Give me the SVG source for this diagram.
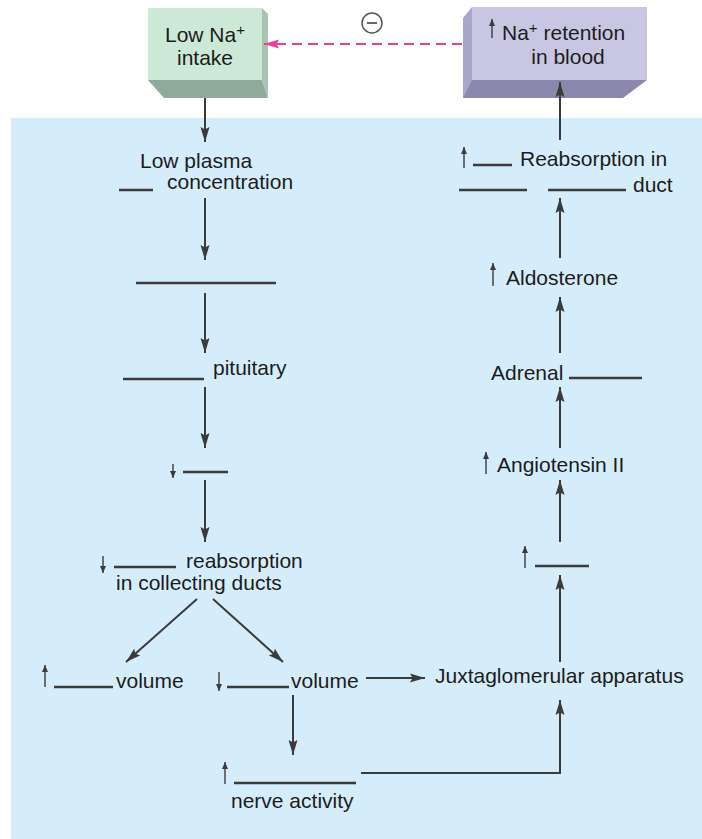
<svg xmlns="http://www.w3.org/2000/svg" width="702" height="839" viewBox="0 0 702 839">
<defs>
<style>
text{font-family:"Liberation Sans",Arial,Helvetica,sans-serif;font-size:21px;fill:#1c1c1c}
.c{stroke:#3b3b3b;stroke-width:2;fill:none}
.b{stroke:#3b3b3b;stroke-width:2.5;fill:none}
.s{stroke:#3b3b3b;stroke-width:1.4;fill:none}
.sup{font-size:15px}
</style>
<marker id="ah" markerUnits="userSpaceOnUse" markerWidth="16" markerHeight="10" refX="15" refY="5" orient="auto">
<path d="M0,0.5 L15,5 L0,9.5 L2.5,5 z" fill="#3b3b3b"/>
</marker>
<marker id="ahp" markerUnits="userSpaceOnUse" markerWidth="16" markerHeight="10" refX="15" refY="5" orient="auto">
<path d="M0,0.5 L15,5 L0,9.5 L2.5,5 z" fill="#e8409a"/>
</marker>
<marker id="sm" markerUnits="userSpaceOnUse" markerWidth="8" markerHeight="8" refX="7" refY="3" orient="auto">
<path d="M0,0 L7,3 L0,6 z" fill="#3b3b3b"/>
</marker>
</defs>
<rect x="0" y="0" width="702" height="839" fill="#ffffff"/>
<rect x="11" y="118" width="691" height="721" fill="#d5ecfa"/>

<g id="low-na-intake">
<polygon points="148,80 262,80 268,98 164,98" fill="#8fa99a"/>
<polygon points="262,8 268,14 268,98 262,80" fill="#a9c3b3"/>
<rect x="148" y="8" width="114" height="72" fill="#cce8d6"/>
<text x="205" y="42" text-anchor="middle">Low Na<tspan class="sup" dy="-7">+</tspan></text>
<text x="205" y="65" text-anchor="middle">intake</text>
</g>

<g id="na-retention">
<polygon points="463,80 647,80 623,98 463,98" fill="#8b88ab"/>
<polygon points="472,7 463,18 463,98 472,80" fill="#a9a6cb"/>
<rect x="472" y="7" width="175" height="73" fill="#c9c6e4"/>
<line class="s" x1="492" y1="38" x2="492" y2="19" marker-end="url(#sm)"/>
<text x="502" y="40">Na<tspan class="sup" dy="-7">+</tspan><tspan dy="7"> retention</tspan></text>
<text x="568" y="64" text-anchor="middle">in blood</text>
</g>

<g id="inhibit">
<circle cx="372" cy="23" r="10" fill="#ffffff" stroke="#555" stroke-width="1.5"/>
<line x1="367" y1="23" x2="377" y2="23" stroke="#555" stroke-width="1.8"/>
</g>

<g id="low-plasma">
<text x="140" y="168">Low plasma</text>
<line class="b" x1="119" y1="190" x2="153" y2="190"/>
<text x="167" y="189">concentration</text>
</g>

<g id="blank1">
<line class="b" x1="136" y1="283" x2="276" y2="283"/>
</g>

<g id="pituitary">
<line class="b" x1="123" y1="379" x2="204" y2="379"/>
<text x="213" y="375">pituitary</text>
</g>

<g id="blank2">
<line class="s" x1="173" y1="464" x2="173" y2="478" marker-end="url(#sm)"/>
<line class="b" x1="183" y1="472" x2="228" y2="472"/>
</g>

<g id="reabsorption-ducts">
<line class="s" x1="103" y1="556" x2="103" y2="573" marker-end="url(#sm)"/>
<line class="b" x1="114" y1="567" x2="176" y2="567"/>
<text x="186" y="568">reabsorption</text>
<text x="116" y="590">in collecting ducts</text>
</g>

<g id="inc-volume">
<line class="s" x1="45" y1="687" x2="45" y2="665" marker-end="url(#sm)"/>
<line class="b" x1="54" y1="687" x2="113" y2="687"/>
<text x="116" y="688">volume</text>
</g>

<g id="dec-volume">
<line class="s" x1="219" y1="672" x2="219" y2="691" marker-end="url(#sm)"/>
<line class="b" x1="227" y1="687" x2="289" y2="687"/>
<text x="291" y="688">volume</text>
</g>

<g id="nerve-activity">
<line class="s" x1="225" y1="784" x2="225" y2="762" marker-end="url(#sm)"/>
<line class="b" x1="234" y1="783" x2="356" y2="783"/>
<text x="231" y="808">nerve activity</text>
</g>

<g id="juxtaglomerular">
<text x="435" y="683">Juxtaglomerular apparatus</text>
</g>

<g id="blank3">
<line class="s" x1="525" y1="568" x2="525" y2="546" marker-end="url(#sm)"/>
<line class="b" x1="535" y1="566" x2="589" y2="566"/>
</g>

<g id="angiotensin">
<line class="s" x1="486" y1="474" x2="486" y2="452" marker-end="url(#sm)"/>
<text x="497" y="472">Angiotensin II</text>
</g>

<g id="adrenal">
<text x="491" y="380">Adrenal</text>
<line class="b" x1="569" y1="378" x2="642" y2="378"/>
</g>

<g id="aldosterone">
<line class="s" x1="493" y1="286" x2="493" y2="263" marker-end="url(#sm)"/>
<text x="506" y="285">Aldosterone</text>
</g>

<g id="reabsorption-duct">
<line class="s" x1="464" y1="168" x2="464" y2="147" marker-end="url(#sm)"/>
<line class="b" x1="473" y1="165" x2="512" y2="165"/>
<text x="520" y="166">Reabsorption in</text>
<line class="b" x1="459" y1="190" x2="527" y2="190"/>
<line class="b" x1="548" y1="190" x2="626" y2="190"/>
<text x="633" y="192">duct</text>
</g>

<g id="connectors">
<line class="c" x1="205" y1="98" x2="205" y2="142" marker-end="url(#ah)"/>
<line class="c" x1="205" y1="198" x2="205" y2="260" marker-end="url(#ah)"/>
<line class="c" x1="205" y1="293" x2="205" y2="353" marker-end="url(#ah)"/>
<line class="c" x1="205" y1="387" x2="205" y2="448" marker-end="url(#ah)"/>
<line class="c" x1="205" y1="480" x2="205" y2="542" marker-end="url(#ah)"/>
<line class="c" x1="197" y1="599" x2="126" y2="662" marker-end="url(#ah)"/>
<line class="c" x1="213" y1="599" x2="283" y2="662" marker-end="url(#ah)"/>
<line class="c" x1="366" y1="678" x2="425" y2="678" marker-end="url(#ah)"/>
<line class="c" x1="293" y1="695" x2="293" y2="755" marker-end="url(#ah)"/>
<polyline class="c" points="361,773 560,773 560,700" marker-end="url(#ah)"/>
<line class="c" x1="560" y1="662" x2="560" y2="575" marker-end="url(#ah)"/>
<line class="c" x1="560" y1="542" x2="560" y2="480" marker-end="url(#ah)"/>
<line class="c" x1="560" y1="448" x2="560" y2="387" marker-end="url(#ah)"/>
<line class="c" x1="560" y1="353" x2="560" y2="297" marker-end="url(#ah)"/>
<line class="c" x1="560" y1="258" x2="560" y2="198" marker-end="url(#ah)"/>
<line class="c" x1="560" y1="140" x2="560" y2="82" marker-end="url(#ah)"/>
<line x1="462" y1="44" x2="264" y2="44" stroke="#e8409a" stroke-width="2" stroke-dasharray="10,6" marker-end="url(#ahp)"/>
</g>
</svg>
